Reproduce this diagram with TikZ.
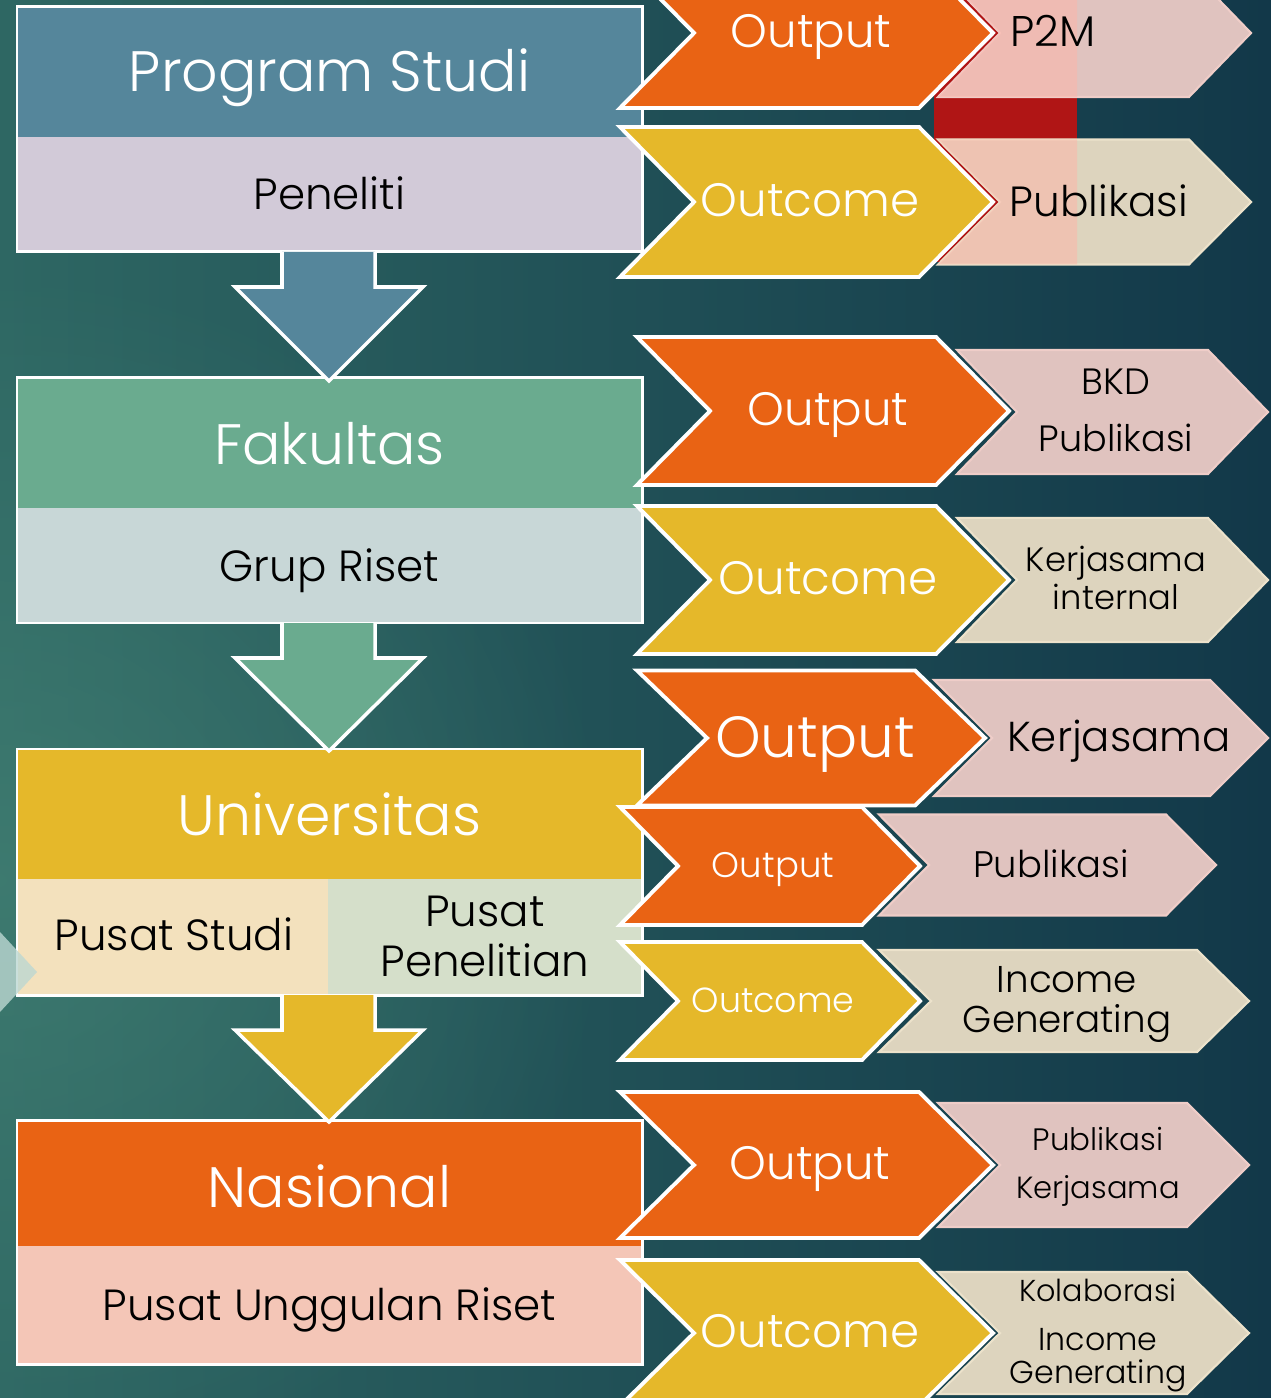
\documentclass[tikz,border=0pt]{standalone}
\usepackage{fontspec}
\setmainfont{Poppins Light}
\usetikzlibrary{fadings}

\tikzfading[name=glowfade, inner color=transparent!0, outer color=transparent!100]

\definecolor{bgL}{HTML}{2E6763}
\definecolor{bgR}{HTML}{123849}
\definecolor{glow}{HTML}{4A8A7A}
\definecolor{prodi}{HTML}{55869B}
\definecolor{peneliti}{HTML}{D2CAD8}
\definecolor{fakultas}{HTML}{6AAB8F}
\definecolor{grupriset}{HTML}{C8D7D7}
\definecolor{univ}{HTML}{E5B82A}
\definecolor{pusatstudi}{HTML}{F3E1BD}
\definecolor{pusatpen}{HTML}{D5DFCA}
\definecolor{nasional}{HTML}{E96314}
\definecolor{unggulan}{HTML}{F4C6B7}
\definecolor{outorange}{HTML}{E96314}
\definecolor{outgold}{HTML}{E5B82A}
\definecolor{respink}{HTML}{E0C3BF}
\definecolor{respinkedge}{HTML}{EFCDC8}
\definecolor{resbeige}{HTML}{DDD4BE}
\definecolor{resbeigeedge}{HTML}{ECE2CB}
\definecolor{selred}{HTML}{B01515}
\definecolor{selglow}{HTML}{FFB4A8}
\definecolor{mint}{HTML}{BCD8D2}

% chevron: style, x left, y centre, width, height, notch depth
\newcommand{\chev}[6]{%
  \draw[#1] (#2,#3-#5/2) -- ++(#4,0) -- ++(#6,#5/2) -- ++(-#6,#5/2)
    -- ++(-#4,0) -- ++(#6,-#5/2) -- cycle;}
% block arrow down: top of shaft, top of head, tip, colour
\newcommand{\dnarrow}[4]{%
  \draw[arrowline, fill=#4] (282,#1) -- (282,#2) -- (235,#2) -- (329,#3)
    -- (423,#2) -- (375,#2) -- (375,#1);}
\newcommand{\fsz}[1]{\fontsize{#1}{#1}\selectfont}

\tikzset{
  boxframe/.style={draw=white, line width=0.85pt},
  arrowline/.style={draw=white, line width=1pt, line join=miter},
  hot/.style={draw=white, line width=1.1pt, fill=outorange},
  warm/.style={draw=white, line width=1.1pt, fill=outgold},
  pinkres/.style={draw=respinkedge, line width=0.6pt, fill=respink},
  beigeres/.style={draw=resbeigeedge, line width=0.6pt, fill=resbeige},
  title/.style={text=white, anchor=base, font=\fsz{16.2}},
  sub/.style={text=black, anchor=base, font=\fsz{12.4}},
  wlbl/.style={text=white, anchor=base},
  klbl/.style={text=black, anchor=base}
}

\begin{document}
\begin{tikzpicture}[x=0.01cm, y=-0.01cm]
  \useasboundingbox (0,0) rectangle (1271,1398);
  \shade[left color=bgL, right color=bgR] (0,0) rectangle (1271,1398);
  \fill[glow, opacity=.55, path fading=glowfade] (0,880) circle (620);

  % left column
  \fill[prodi] (17,7) rectangle (642,137);
  \fill[peneliti] (17,137) rectangle (642,252);
  \draw[boxframe] (17,7) rectangle (642,252);

  \fill[fakultas] (17,378) rectangle (642,508);
  \fill[grupriset] (17,508) rectangle (642,623);
  \draw[boxframe] (17,378) rectangle (642,623);

  \fill[univ] (17,749) rectangle (642,879);
  \fill[pusatstudi] (17,879) rectangle (328,995);
  \fill[pusatpen] (328,879) rectangle (642,995);
  \draw[boxframe] (17,749) rectangle (642,995);

  \fill[nasional] (17,1120) rectangle (642,1246);
  \fill[unggulan] (17,1246) rectangle (642,1364);
  \draw[boxframe] (17,1120) rectangle (642,1364);

  \dnarrow{252}{287}{381}{prodi}
  \dnarrow{623}{658}{751}{fakultas}
  \dnarrow{995}{1030}{1122}{univ}

  \fill[mint, opacity=.8] (0,932) -- (37,972) -- (0,1012) -- cycle;

  % right column
  \fill[selred] (934,0) rectangle (1077,262);

  \chev{hot}{620}{33}{299}{150}{74}
  \chev{warm}{620}{202}{299}{150}{74}
  \chev{pinkres}{938}{33}{251}{128}{62}
  \chev{beigeres}{938}{202}{251}{125}{62}
  \begin{scope}
    \clip (934,0) rectangle (1077,268);
    \chev{fill=selglow, opacity=.5, draw=none}{938}{33}{251}{128}{62}
    \chev{fill=selglow, opacity=.5, draw=none}{938}{202}{251}{125}{62}
  \end{scope}

  \chev{hot}{637}{411}{299}{148}{73}
  \chev{warm}{637}{580}{299}{148}{73}
  \chev{pinkres}{957}{412}{251}{124}{60}
  \chev{beigeres}{957}{580}{251}{124}{60}

  \chev{hot}{637}{738}{278}{135}{70}
  \chev{pinkres}{934}{738}{276}{116}{58}
  \chev{hot}{620}{866}{242}{118}{58}
  \chev{pinkres}{879}{865}{287}{101}{50}
  \chev{warm}{620}{1001}{242}{118}{58}
  \chev{beigeres}{879}{1001}{318}{102}{52}

  \chev{hot}{620}{1165}{299}{146}{74}
  \chev{warm}{620}{1333}{299}{146}{74}
  \chev{pinkres}{938}{1165}{249}{124}{62}
  \chev{beigeres}{938}{1333}{249}{122}{62}

  % labels
  \node[title] (prodiTxt) at (329.5,92) {Program Studi};
  \node[sub] (penelitiTxt) at (329.5,210) {Peneliti};
  \node[title] (fakTxt) at (329.5,465) {Fakultas};
  \node[sub] (grupTxt) at (329.5,582) {Grup Riset};
  \node[title] (univTxt) at (329.5,835) {Universitas};
  \node[sub] (studiTxt) at (174,950) {Pusat Studi};
  \node[sub] (pusatTxt) at (485,926) {Pusat};
  \node[sub] (penelitianTxt) at (485,976) {Penelitian};
  \node[title] (nasTxt) at (329.5,1207) {Nasional};
  \node[sub] (unggulTxt) at (329.5,1320) {Pusat Unggulan Riset};

  \node[wlbl, font=\fsz{13.3}] (outA) at (811,48) {Output};
  \node[wlbl, font=\fsz{13.3}] (ocA) at (810,217) {Outcome};
  \node[klbl, font=\fsz{12.2}] (ptm) at (1053,47) {P2M};
  \node[klbl, font=\fsz{12}] (pubA) at (1099,217) {Publikasi};

  \node[wlbl, font=\fsz{13.3}] (outB) at (828,426) {Output};
  \node[wlbl, font=\fsz{13.3}] (ocB) at (828,595) {Outcome};
  \node[klbl, font=\fsz{10.4}] (bkd) at (1116,395) {BKD};
  \node[klbl, font=\fsz{10.4}] (pubB) at (1116,452) {Publikasi};
  \node[klbl, font=\fsz{9.6}] (kerjaB) at (1116,571) {Kerjasama};
  \node[klbl, font=\fsz{9.6}] (internal) at (1116,610) {internal};

  \node[wlbl, font=\fsz{16.5}] (outC) at (815,757) {Output};
  \node[klbl, font=\fsz{11.9}] (kerjaC) at (1119,751) {Kerjasama};
  \node[wlbl, font=\fsz{10.1}] (outD) at (773,877) {Output};
  \node[klbl, font=\fsz{10.5}] (pubC) at (1051,877) {Publikasi};
  \node[wlbl, font=\fsz{9.9}] (ocC) at (773,1012) {Outcome};
  \node[klbl, font=\fsz{10.6}] (incC) at (1067,992) {Income};
  \node[klbl, font=\fsz{10.6}] (genC) at (1067,1032) {Generating};

  \node[wlbl, font=\fsz{13.3}] (outE) at (810,1179) {Output};
  \node[wlbl, font=\fsz{13.3}] (ocE) at (810,1347) {Outcome};
  \node[klbl, font=\fsz{8.8}] (pubE) at (1098,1150) {Publikasi};
  \node[klbl, font=\fsz{8.7}] (kerjaE) at (1098,1198) {Kerjasama};
  \node[klbl, font=\fsz{8.6}] (kolab) at (1098,1301) {Kolaborasi};
  \node[klbl, font=\fsz{9}] (incE) at (1098,1350) {Income};
  \node[klbl, font=\fsz{9}] (genE) at (1098,1383) {Generating};
\end{tikzpicture}
\end{document}
